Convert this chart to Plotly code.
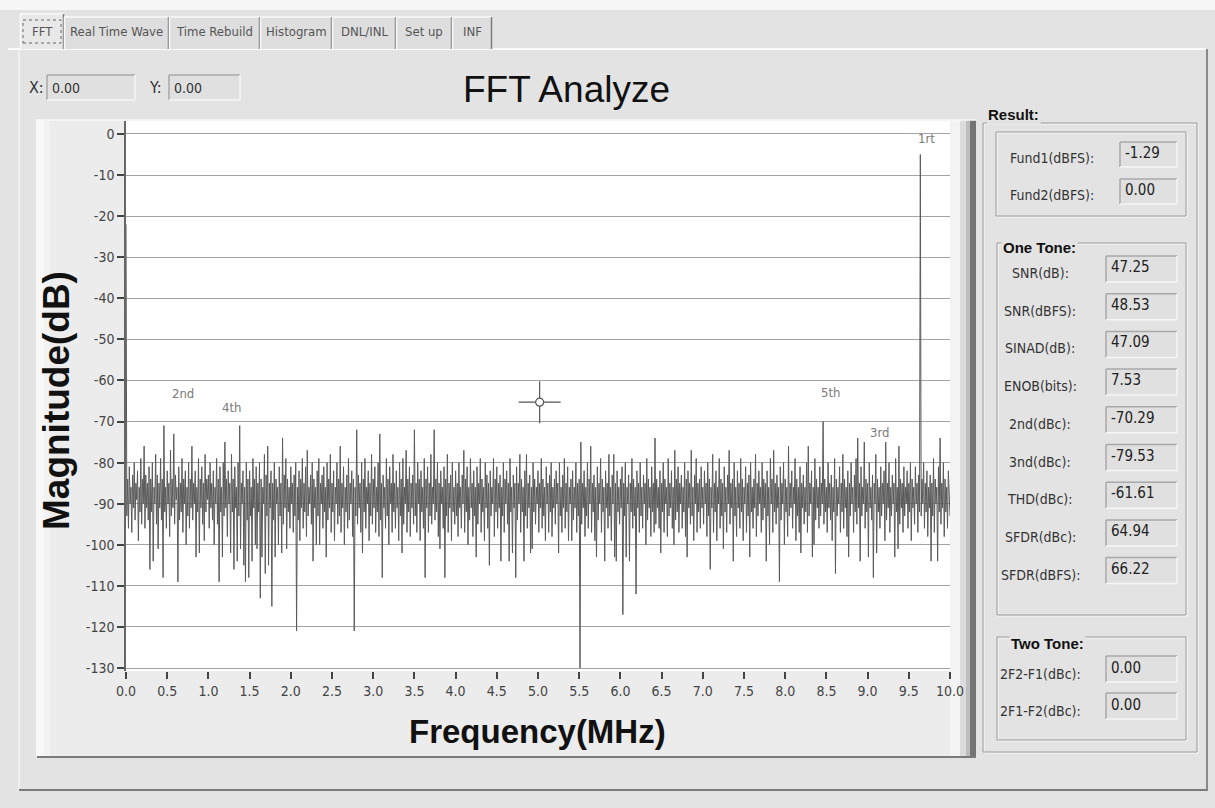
import numpy as np
import plotly.graph_objects as go

# ---------------- data ----------------
f_start, f_stop = 0.0, 10.0  # MHz, FFT bin span
mag_db = [
    -22, -93, -84, -96, -81, -90, -86, -97, -83, -91, -80, -94, -85, -89, -82, -99, -86, -92, -79, -95, -84, -90, -76, -96, -83,
    -91, -85, -94, -81, -106, -84, -92, -80, -104, -86, -90, -78, -95, -83, -101, -85, -91, -79, -94, -84, -108, -71, -92, -86, -96,
    -82, -90, -85, -98, -77, -93, -84, -91, -73, -95, -83, -89, -86, -109, -81, -94, -85, -92, -79, -97, -84, -90, -82, -100, -86,
    -93, -80, -96, -84, -91, -76, -94, -85, -90, -82, -103, -86, -92, -79, -102, -84, -91, -81, -95, -85, -99, -78, -92, -84, -89,
    -83, -96, -80, -91, -85, -94, -82, -100, -86, -90, -79, -95, -84, -109, -81, -92, -86, -103, -80, -93, -75, -91, -84, -98, -82,
    -90, -85, -102, -78, -92, -84, -106, -81, -91, -86, -104, -80, -93, -71, -101, -85, -90, -82, -105, -86, -109, -80, -94, -84, -108,
    -82, -93, -86, -104, -79, -91, -84, -100, -81, -101, -85, -92, -80, -113, -84, -103, -86, -90, -78, -107, -83, -93, -76, -105, -85,
    -91, -82, -115, -85, -94, -80, -103, -84, -90, -86, -100, -81, -93, -85, -102, -74, -95, -83, -91, -79, -101, -84, -92, -86, -96,
    -81, -90, -85, -97, -83, -93, -80, -121, -86, -94, -82, -99, -84, -91, -79, -96, -85, -92, -81, -98, -77, -93, -86, -90, -83,
    -95, -80, -104, -84, -91, -86, -100, -82, -93, -79, -100, -85, -90, -83, -96, -81, -92, -86, -103, -80, -94, -84, -91, -78, -97,
    -85, -92, -82, -99, -86, -90, -80, -95, -84, -93, -76, -97, -85, -91, -81, -100, -86, -92, -83, -96, -79, -94, -85, -90, -82,
    -98, -84, -121, -86, -93, -72, -95, -83, -91, -85, -97, -80, -102, -84, -92, -79, -96, -86, -90, -82, -99, -85, -93, -78, -95,
    -84, -91, -81, -97, -86, -92, -80, -98, -73, -94, -85, -108, -83, -91, -86, -96, -79, -93, -84, -100, -81, -90, -85, -97, -78,
    -92, -85, -96, -82, -91, -86, -99, -80, -93, -84, -102, -79, -95, -86, -90, -77, -97, -84, -92, -81, -98, -85, -91, -83, -95,
    -72, -93, -85, -97, -80, -90, -84, -99, -82, -92, -86, -96, -79, -108, -84, -91, -81, -97, -85, -93, -78, -95, -86, -90, -72,
    -94, -84, -92, -80, -98, -85, -101, -82, -90, -86, -96, -81, -108, -84, -93, -78, -97, -85, -91, -83, -99, -80, -92, -86, -95,
    -82, -93, -85, -98, -80, -91, -86, -96, -83, -90, -77, -97, -84, -92, -81, -100, -86, -94, -79, -91, -85, -98, -82, -93, -86,
    -103, -81, -95, -85, -90, -79, -97, -84, -92, -86, -99, -80, -91, -83, -96, -85, -105, -82, -93, -86, -90, -79, -98, -84, -92,
    -81, -96, -85, -91, -83, -104, -86, -93, -80, -97, -84, -90, -82, -95, -85, -104, -79, -92, -86, -102, -83, -91, -85, -108, -81,
    -94, -85, -90, -78, -97, -84, -92, -86, -104, -82, -93, -78, -96, -85, -91, -83, -102, -86, -101, -80, -92, -84, -95, -86, -90,
    -82, -97, -85, -91, -79, -96, -84, -93, -86, -99, -81, -90, -85, -97, -83, -92, -80, -98, -86, -91, -84, -95, -82, -90, -85,
    -102, -80, -93, -86, -97, -83, -91, -79, -96, -85, -92, -81, -99, -86, -90, -84, -99, -82, -94, -86, -91, -80, -97, -85, -93,
    -84, -130, -75, -95, -85, -91, -82, -98, -86, -93, -80, -96, -84, -90, -76, -97, -85, -92, -83, -99, -86, -103, -81, -94, -85,
    -90, -79, -97, -84, -92, -86, -104, -82, -91, -85, -96, -78, -93, -86, -99, -83, -90, -78, -103, -85, -104, -82, -92, -86, -95,
    -84, -91, -81, -117, -85, -93, -80, -103, -86, -90, -83, -104, -85, -92, -79, -96, -84, -93, -86, -112, -82, -91, -85, -97, -80,
    -93, -86, -96, -83, -90, -85, -100, -79, -94, -84, -91, -86, -98, -81, -92, -85, -97, -74, -95, -84, -91, -86, -96, -82, -102,
    -85, -92, -80, -97, -84, -90, -86, -98, -79, -93, -85, -91, -82, -96, -86, -100, -77, -94, -84, -92, -81, -97, -85, -90, -83,
    -96, -86, -92, -80, -98, -84, -103, -82, -91, -85, -95, -77, -93, -86, -99, -83, -90, -79, -97, -85, -92, -84, -96, -81, -91,
    -86, -95, -82, -90, -85, -98, -80, -93, -84, -106, -86, -91, -78, -97, -85, -92, -82, -99, -86, -90, -79, -96, -84, -93, -85,
    -101, -81, -92, -86, -97, -83, -90, -77, -95, -85, -91, -84, -104, -80, -93, -86, -98, -82, -91, -85, -96, -79, -92, -84, -99,
    -86, -90, -81, -97, -85, -93, -83, -103, -80, -92, -86, -96, -84, -91, -78, -98, -85, -93, -82, -90, -86, -97, -80, -94, -84,
    -91, -85, -104, -82, -93, -86, -100, -79, -90, -84, -97, -77, -92, -85, -95, -83, -91, -86, -109, -81, -94, -85, -90, -80, -100,
    -84, -92, -86, -98, -76, -93, -85, -91, -82, -96, -86, -90, -79, -99, -84, -93, -86, -97, -81, -102, -85, -91, -83, -95, -86,
    -92, -80, -97, -76, -93, -85, -90, -82, -103, -86, -100, -79, -94, -84, -91, -86, -96, -81, -93, -85, -90, -70, -95, -84, -92,
    -86, -97, -80, -91, -85, -94, -83, -99, -86, -92, -79, -107, -84, -93, -86, -90, -81, -97, -85, -92, -78, -96, -84, -91, -86,
    -98, -82, -103, -85, -93, -80, -90, -86, -97, -83, -92, -79, -95, -74, -91, -85, -104, -81, -93, -86, -90, -75, -96, -84, -92,
    -85, -103, -80, -91, -86, -94, -83, -108, -85, -90, -78, -102, -84, -92, -86, -96, -81, -93, -85, -90, -82, -99, -75, -94, -85,
    -91, -80, -97, -86, -93, -83, -90, -85, -103, -79, -92, -86, -101, -76, -95, -84, -91, -85, -97, -81, -93, -86, -90, -82, -96,
    -85, -92, -80, -99, -84, -91, -86, -95, -81, -90, -85, -97, -83, -92, -5, -93, -84, -90, -80, -96, -85, -92, -82, -98, -86,
    -91, -83, -104, -85, -93, -79, -97, -84, -90, -86, -104, -81, -92, -74, -95, -85, -91, -80, -98, -84, -92, -86, -96, -82, -90,
    -93,
]

x_tick_vals = [0.0, 0.5, 1.0, 1.5, 2.0, 2.5, 3.0, 3.5, 4.0, 4.5, 5.0, 5.5, 6.0, 6.5, 7.0, 7.5, 8.0, 8.5, 9.0, 9.5, 10.0]
y_tick_vals = [0, -10, -20, -30, -40, -50, -60, -70, -80, -90, -100, -110, -120, -130]

harm_names = ["1rt", "2nd", "3rd", "4th", "5th"]
harm_text_x = [9.72, 0.69, 9.14, 1.28, 8.55]
harm_text_y = [-1.0, -63.2, -72.6, -66.5, -62.9]

cursor_x, cursor_y = 5.02, -65.3

tab_names = ["FFT", "Real Time Wave", "Time Rebuild", "Histogram", "DNL/INL", "Set up", "INF"]

fund_labels = ["Fund1(dBFS):", "Fund2(dBFS):"]
fund_values = ["-1.29", "0.00"]
one_tone_labels = ["SNR(dB):", "SNR(dBFS):", "SINAD(dB):", "ENOB(bits):", "2nd(dBc):",
                   "3nd(dBc):", "THD(dBc):", "SFDR(dBc):", "SFDR(dBFS):"]
one_tone_values = ["47.25", "48.53", "47.09", "7.53", "-70.29", "-79.53", "-61.61", "64.94", "66.22"]
two_tone_labels = ["2F2-F1(dBc):", "2F1-F2(dBc):"]
two_tone_values = ["0.00", "0.00"]

# ---------------- layout helpers ----------------
W, H = 1215, 808
L, R, T, B = 126, 265, 121, 137
PW, PH = W - L - R, H - T - B
NARROW = "Liberation Sans Narrow, Arial Narrow, DejaVu Sans Condensed, Roboto, sans-serif"
ARIAL = "Liberation Sans, Arial, sans-serif"
PANEL = "#e3e3e3"

shapes, annotations = [], []


def px(x):
    return (x - L) / PW


def py(y):
    return 1 - (y - T) / PH


def rect(x0, y0, x1, y1, fill=None, line=None, lw=1, dash=None):
    ln = dict(color=line if line else "rgba(0,0,0,0)", width=lw if line else 0)
    if dash:
        ln["dash"] = dash
    shapes.append(dict(type="rect", xref="paper", yref="paper",
                       x0=px(x0), x1=px(x1), y0=py(y1), y1=py(y0),
                       fillcolor=fill if fill else "rgba(0,0,0,0)", line=ln, layer="below"))


def seg(x0, y0, x1, y1, color, lw=1):
    shapes.append(dict(type="line", xref="paper", yref="paper",
                       x0=px(x0), x1=px(x1), y0=py(y0), y1=py(y1),
                       line=dict(color=color, width=lw), layer="below"))


def text(x, y, s, size=13, color="#333", family=NARROW, xanchor="left", bg=None):
    a = dict(xref="paper", yref="paper", x=px(x), y=py(y), text=s, showarrow=False,
             xanchor=xanchor, yanchor="middle", font=dict(family=family, size=size, color=color))
    if bg:
        a["bgcolor"] = bg
    annotations.append(a)


def sunken_box(x0, y0, x1, y1):
    rect(x0, y0, x1, y1, fill="#e0e0e0")
    seg(x0, y0, x1, y0, "#a8a8a8", 1.5)
    seg(x0, y0, x0, y1, "#a8a8a8", 1.5)
    seg(x0, y1, x1, y1, "#f6f6f6", 1.5)
    seg(x1, y0, x1, y1, "#f6f6f6", 1.5)


def etched(x0, y0, x1, y1):
    rect(x0 + 1, y0 + 1, x1 + 1, y1 + 1, line="#fbfbfb", lw=1)
    rect(x0, y0, x1, y1, line="#9a9a9a", lw=1)


# ---------------- GUI chrome ----------------
rect(0, 0, W, 10, fill="#f7f7f7")
# main panel
rect(8, 49, 1207, 791, fill=PANEL)
seg(8, 49, 1207, 49, "#fbfbfb", 2)
seg(19, 49, 19, 791, "#f4f4f4", 1.5)
seg(1207, 49, 1207, 791, "#8a8a8a", 2)
seg(19, 790, 1207, 790, "#7a7a7a", 2)

# tabs
tab_edges = [20, 64, 169, 260, 332, 396, 452, 492]
for i, name in enumerate(tab_names):
    x0, x1 = tab_edges[i], tab_edges[i + 1]
    top = 14 if i == 0 else 17
    rect(x0, top, x1, 49, fill="#e8e8e8" if i == 0 else "#dedede")
    seg(x0, top, x1, top, "#fafafa", 1.5)
    seg(x0 + 0.5, top, x0 + 0.5, 49, "#fafafa", 1.5)
    seg(x1 - 0.5, top, x1 - 0.5, 49, "#7c7c7c", 1.5)
    text((x0 + x1) / 2, 32, name, size=13, color="#555", xanchor="center")
rect(23, 20, 61, 43, line="#666", lw=1, dash="dot")

# X / Y readouts
text(36, 88, "X:", size=16, color="#333", xanchor="center")
sunken_box(47, 75, 135, 100)
text(50, 88, "0.00", size=14, color="#333")
text(155, 88, "Y:", size=16, color="#333", xanchor="center")
sunken_box(169, 75, 240, 100)
text(172, 88, "0.00", size=14, color="#333")

# chart title
text(566, 89, "FFT Analyze", size=37, color="#111", family=ARIAL, xanchor="center")

# graph frame
rect(36, 120, 976, 757, fill="#ececec")
rect(36, 120, 44, 757, fill="#f8f8f8")
rect(44, 120, 50, 757, fill="#f2f2f2")
rect(950, 120, 960, 757, fill="#f3f3f3")
rect(960, 120, 966, 757, fill="#dcdcdc")
rect(966, 120, 970, 757, fill="#bdbdbd")
rect(970, 120, 976, 757, fill="#747474")
seg(36, 120, 976, 120, "#f8f8f8", 1.5)
seg(37, 757, 976, 757, "#7a7a7a", 2)
rect(126, 121, 950, 671, fill="#ffffff")

# axis titles
text(537, 731, "<b>Frequency(MHz)</b>", size=33, color="#111", family=ARIAL, xanchor="center")
annotations.append(dict(xref="paper", yref="paper", x=px(57), y=py(401), text="<b>Magnitude(dB)</b>",
                        textangle=-90, showarrow=False, xanchor="center", yanchor="middle",
                        font=dict(family=ARIAL, size=37, color="#111")))

# result panel
etched(983, 123, 1197, 752)
text(986, 115, "<b>Result:</b>", size=15, color="#111", family=ARIAL, bg=PANEL)
etched(996, 132, 1186, 216)
for k, (lab, val) in enumerate(zip(fund_labels, fund_values)):
    yc = 155 + k * 37
    sunken_box(1120, yc - 13, 1177, yc + 12)
    text(1052, yc + 3, lab, size=14, color="#333", xanchor="center")
    text(1123, yc - 2, val, size=15, color="#222")

etched(997, 243, 1186, 615)
text(1001, 247, "<b>One Tone:</b>", size=15, color="#111", family=ARIAL, bg=PANEL)
for k, (lab, val) in enumerate(zip(one_tone_labels, one_tone_values)):
    yc = 269 + k * 37.7
    sunken_box(1106, yc - 13, 1177, yc + 13)
    text(1040, yc + 4, lab, size=14, color="#333", xanchor="center")
    text(1109, yc - 2, val, size=15, color="#222")

etched(997, 637, 1186, 740)
text(1009, 643, "<b>Two Tone:</b>", size=15, color="#111", family=ARIAL, bg=PANEL)
for k, (lab, val) in enumerate(zip(two_tone_labels, two_tone_values)):
    yc = 669 + k * 37
    sunken_box(1106, yc - 13, 1177, yc + 13)
    text(1040, yc + 5, lab, size=14, color="#333", xanchor="center")
    text(1109, yc - 1, val, size=15, color="#222")

# ---------------- figure ----------------
freq = np.linspace(f_start, f_stop, len(mag_db))

fig = go.Figure()
fig.add_trace(go.Scatter(x=freq, y=mag_db, mode="lines",
                         line=dict(color="#5a5a5a", width=1), hoverinfo="skip", showlegend=False))
# cursor
fig.add_trace(go.Scatter(x=[cursor_x], y=[cursor_y], mode="markers",
                         marker=dict(symbol="cross-thin-open", size=30, color="#555",
                                     line=dict(color="#555", width=1.2)),
                         hoverinfo="skip", showlegend=False))
fig.add_trace(go.Scatter(x=[cursor_x], y=[cursor_y], mode="markers",
                         marker=dict(symbol="circle", size=8, color="white", line=dict(color="#555", width=1.2)),
                         hoverinfo="skip", showlegend=False))

for name, hx, hy in zip(harm_names, harm_text_x, harm_text_y):
    annotations.append(dict(x=hx, y=hy, xref="x", yref="y", text=name, showarrow=False,
                            font=dict(family=NARROW, size=13, color="#7a7a7a")))

fig.update_layout(
    width=W, height=H,
    margin=dict(l=L, r=R, t=T, b=B, pad=0),
    paper_bgcolor=PANEL,
    plot_bgcolor="white",
    shapes=shapes,
    annotations=annotations,
    xaxis=dict(range=[f_start, f_stop], tickvals=x_tick_vals,
               ticktext=[f"{v:.1f}" for v in x_tick_vals],
               showgrid=False, zeroline=False, showline=False,
               ticks="outside", ticklen=7, tickwidth=1.5, tickcolor="#444",
               tickfont=dict(family=NARROW, size=14, color="#444")),
    yaxis=dict(range=[-130.73, 3.16], tickvals=y_tick_vals,
               ticktext=[str(v) for v in y_tick_vals],
               showgrid=True, gridcolor="#a4a4a4", gridwidth=1.3,
               zeroline=False, showline=True, linecolor="#666", linewidth=1.5,
               ticks="outside", ticklen=7, tickwidth=1.5, tickcolor="#444",
               tickfont=dict(family=NARROW, size=14, color="#444")),
)

fig.write_html("out.html", config={"displayModeBar": False},
               post_script="document.body.style.margin='0';document.body.style.overflow='hidden';")
